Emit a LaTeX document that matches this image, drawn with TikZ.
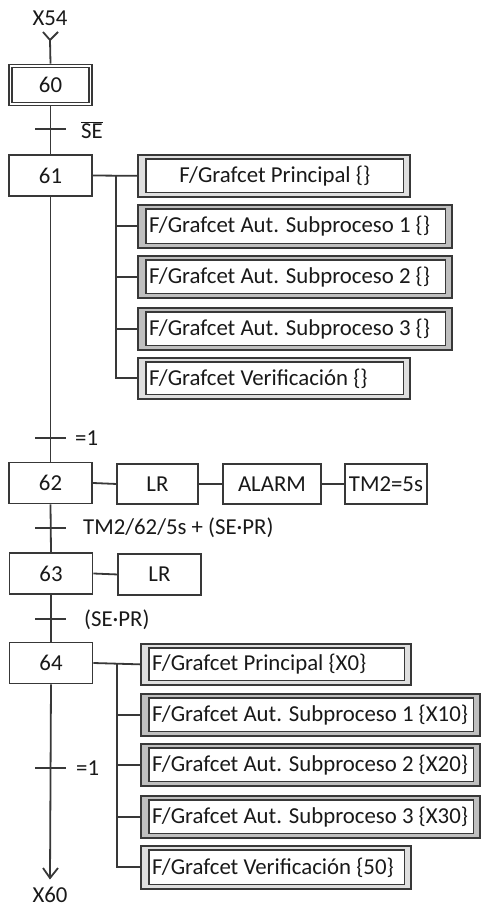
\documentclass[tikz,border=0pt]{standalone}
\usepackage{fontspec}
\setmainfont{Carlito}
\usetikzlibrary{calc}
\definecolor{ln}{gray}{0.22}
\definecolor{tx}{gray}{0.1}
\tikzset{
  every node/.style={font=\fontsize{22.8}{25}\selectfont, text=tx},
  conn/.style={draw=ln, line width=1.8},
  stepbox/.style={draw=ln, line width=1.9, fill=white, minimum width=83, minimum height=41, inner sep=0},
  plainbox/.style={draw=ln, line width=1.9, fill=white, inner sep=0, anchor=north west},
  abox/.style={draw=ln, line width=1.7, inner sep=0, anchor=north west},
  ainner/.style={draw=ln, line width=1.2, fill=white},
  lab/.style={anchor=west, inner sep=0},
}
\newcommand{\ActBox}[7]{%
  \node[abox, fill=#6, minimum width={#4-#2}, minimum height={#5-#3}] (#1) at (#2,#3) {};
  \draw[ainner] ([shift={(9,5)}]#1.north west) rectangle ([shift={(-7,-5)}]#1.south east);
  \node[lab] (#1t) at ([xshift=12]#1.west) {#7};
}
\newcommand{\ActBoxC}[7]{%
  \node[abox, fill=#6, minimum width={#4-#2}, minimum height={#5-#3}] (#1) at (#2,#3) {};
  \draw[ainner] ([shift={(9,5)}]#1.north west) rectangle ([shift={(-7,-5)}]#1.south east);
  \node[inner sep=0] (#1t) at ([xshift=1]#1.center) {#7};
}
\begin{document}
\begin{tikzpicture}[x=1pt,y=-1pt]
\useasboundingbox (0,0) rectangle (480,909);
% labels in / out
\node (x54) at (50,18) {X54};
\node (x60) at (50,895) {X60};
% steps
\node[stepbox] (s60) at (50.5,85) {60};
\draw[draw=ln, line width=1.2] ([shift={(4,4)}]s60.north west) rectangle ([shift={(-4,-4)}]s60.south east);
\node[stepbox] (s61) at (50.5,175.5) {61};
\node[stepbox] (s62) at (50.5,483) {62};
\node[stepbox] (s63) at (51,573.5) {63};
\node[stepbox] (s64) at (51,663) {64};
% entry arrow
\coordinate (in) at (50,40);
\draw[conn] ([shift={(-7,-8)}]in) -- (in) -- ([shift={(8,-8)}]in);
\draw[conn] (in) -- (s60.north);
% links with transitions
\draw[conn] (s60.south) -- (s61.north);
\draw[conn] (s61.south) -- (s62.north);
\draw[conn] (s62.south) -- (s63.north);
\draw[conn] (s63.south) -- (s64.north);
\coordinate (out) at (50,878);
\draw[conn] (s64.south) -- (out);
\draw[conn] ([shift={(-7,-10)}]out) -- (out) -- ([shift={(8,-10)}]out);
% transitions
\coordinate (t1) at (50,129);
\coordinate (t2) at (50,438);
\coordinate (t3) at (50,528);
\coordinate (t4) at (50,619);
\coordinate (t5) at (50,768);
\foreach \t in {t1,t2,t3,t4,t5}{\draw[conn] ([xshift=-15]\t) -- ([xshift=16]\t);}
\node[lab] (c1) at (81,130) {$\overline{\hbox{SE}}$};
\node[lab] (c2) at (75,438) {=1};
\node[lab] (c3) at (83,528) {TM2/62/5s + (SE\textperiodcentered PR)};
\node[lab] (c4) at (84,620) {(SE\textperiodcentered PR)};
\node[lab] (c5) at (76,768) {=1};
% actions step 61
\ActBoxC{a1}{137}{154}{409}{196}{gray!25}{F/Grafcet Principal \{\}}
\ActBox{a2}{137}{204}{451}{247}{gray!50}{F/Grafcet Aut. Subproceso 1 \{\}}
\ActBox{a3}{137}{255}{451}{297}{gray!50}{F/Grafcet Aut. Subproceso 2 \{\}}
\ActBox{a4}{137}{307}{451}{349}{gray!50}{F/Grafcet Aut. Subproceso 3 \{\}}
\ActBox{a5}{137}{357}{409}{398}{gray!25}{F/Grafcet Verificación \{\}}
\coordinate (b1) at (116,175);
\draw[conn] (s61.east) -- (a1.west);
\draw[conn] (b1) |- (a5.west);
\foreach \a in {a2,a3,a4}{\draw[conn] (b1 |- \a.west) -- (\a.west);}
% actions step 62
\node[plainbox, minimum width=81, minimum height=40] (lr1) at (116,463) {};
\node (lr1t) at (lr1.center) {LR};
\node[plainbox, minimum width=98, minimum height=40] (al) at (222,463) {};
\node (alt) at (al.center) {ALARM};
\node[plainbox, minimum width=82, minimum height=40] (tm) at (344,463) {};
\node (tmt) at (tm.center) {TM2=5s};
\draw[conn] (s62.east) -- (lr1.west);
\draw[conn] (lr1.east) -- (al.west);
\draw[conn] (al.east) -- (tm.west);
% action step 63
\node[plainbox, minimum width=83, minimum height=41] (lr2) at (117,553) {};
\node (lr2t) at (lr2.center) {LR};
\draw[conn] (s63.east) -- (lr2.west);
% actions step 64
\ActBox{d1}{140}{643}{410}{684}{gray!25}{F/Grafcet Principal \{X0\}}
\ActBox{d2}{140}{693}{479}{735}{gray!50}{F/Grafcet Aut. Subproceso 1 \{X10\}}
\ActBox{d3}{140}{743}{479}{785}{gray!50}{F/Grafcet Aut. Subproceso 2 \{X20\}}
\ActBox{d4}{140}{795}{479}{837}{gray!50}{F/Grafcet Aut. Subproceso 3 \{X30\}}
\ActBox{d5}{140}{845}{410}{888}{gray!25}{F/Grafcet Verificación \{50\}}
\coordinate (b2) at (117,663);
\draw[conn] (s64.east) -- (d1.west);
\draw[conn] (b2) |- (d5.west);
\foreach \a in {d2,d3,d4}{\draw[conn] (b2 |- \a.west) -- (\a.west);}
\end{tikzpicture}
\end{document}
